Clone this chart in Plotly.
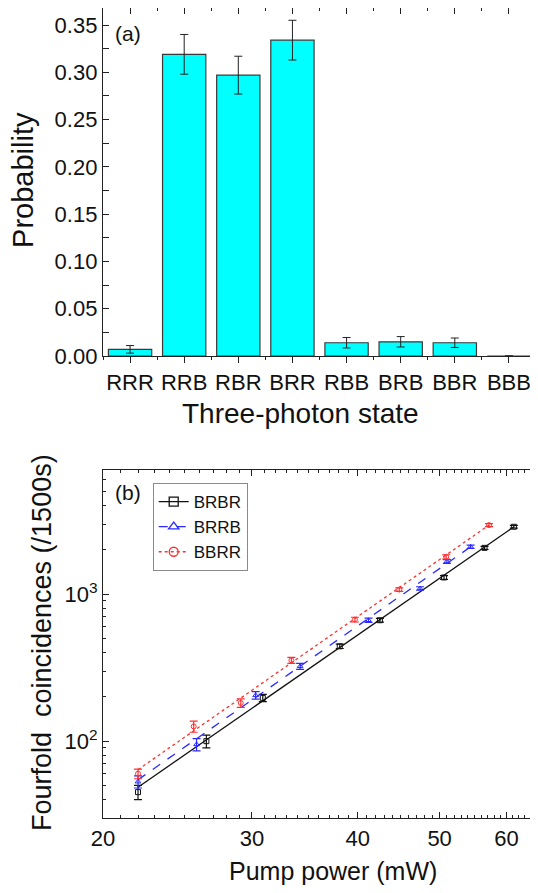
import plotly.graph_objects as go

# ---------------- Panel (a) data ----------------
states = ["RRR", "RRB", "RBR", "BRR", "RBB", "BRB", "BBR", "BBB"]
probability = [0.007, 0.319, 0.297, 0.334, 0.014, 0.015, 0.014, 0.0]
prob_err = [0.004, 0.021, 0.020, 0.021, 0.0055, 0.0055, 0.005, 0.0]

# ---------------- Panel (b) data ----------------
pump_brbr = [22.0, 26.5, 30.9, 38.1, 42.5, 50.6, 56.5, 61.2]
cnt_brbr = [45, 100, 197, 442, 665, 1300, 2068, 2877]
err_brbr = [5, 10, 11, 15, 20, 40, 50, 60]

pump_brrb = [22.0, 25.8, 30.3, 34.2, 41.2, 47.4, 51.0, 54.4]
cnt_brrb = [53, 95, 205, 323, 665, 1094, 1670, 2101]
err_brrb = [5, 9, 12, 15, 22, 30, 50, 55]

pump_bbrr = [22.0, 25.6, 29.1, 33.4, 39.7, 44.8, 50.9, 57.2]
cnt_bbrr = [60, 126, 182, 355, 672, 1076, 1796, 2954]
err_bbrr = [4.5, 11, 12, 17, 25, 30, 60, 70]

# fitted lines (end points)
fit_brbr_x = [22.0, 61.2]
fit_brbr_y = [48.6, 2877]
fit_brrb_x = [22.0, 54.4]
fit_brrb_y = [54.6, 2101]
fit_bbrr_x = [22.0, 57.2]
fit_bbrr_y = [64.0, 2954]

FONT = "Liberation Sans, Arial, sans-serif"
AX = "#222222"

fig = go.Figure()

fig.add_trace(go.Bar(
    x=list(range(len(states))), y=probability, width=0.8,
    marker=dict(color="#00FFFF", line=dict(color="#3a3a3a", width=1.2)),
    error_y=dict(type="data", array=prob_err, color="#222222", thickness=1, width=4),
    xaxis="x", yaxis="y", showlegend=False,
))
fig.add_trace(go.Scatter(x=[None], y=[None], xaxis="x3", yaxis="y", showlegend=False, hoverinfo="skip"))

series = [
    ("BRBR", pump_brbr, cnt_brbr, err_brbr, fit_brbr_x, fit_brbr_y, "#111111", "solid", "square-open"),
    ("BRRB", pump_brrb, cnt_brrb, err_brrb, fit_brrb_x, fit_brrb_y, "#2a2aff", "dash", "triangle-up-open"),
    ("BBRR", pump_bbrr, cnt_bbrr, err_bbrr, fit_bbrr_x, fit_bbrr_y, "#ff3030", "dot", "circle-open"),
]
for name, px, py, pe, fx, fy, col, dash, sym in series:
    fig.add_trace(go.Scatter(
        x=fx, y=fy, mode="lines", line=dict(color=col, width=1.3, dash=dash),
        xaxis="x2", yaxis="y2", showlegend=False, hoverinfo="skip",
    ))
    fig.add_trace(go.Scatter(
        x=px, y=py, mode="markers",
        marker=dict(symbol=sym, size=5, color=col, line=dict(width=1, color=col)),
        error_y=dict(type="data", array=pe, color=col, thickness=1.2, width=4),
        xaxis="x2", yaxis="y2", showlegend=False,
    ))
    fig.add_trace(go.Scatter(
        x=[None], y=[None], mode="lines+markers", name=name,
        line=dict(color=col, width=1.3, dash=dash),
        marker=dict(symbol=sym, size=9, color=col, line=dict(width=1.3, color=col)),
        xaxis="x2", yaxis="y2", showlegend=True,
    ))

tickfont = dict(family=FONT, size=22, color="#111111")

xminor_b = [v for v in range(21, 66) if v % 10 != 0]
yminor_b = [m * 10 ** e for e in (1, 2, 3) for m in range(2, 10) if 30 <= m * 10 ** e <= 7000]

# the page body has an 8 px margin; plot area lands at x 103..536, y 8..818
fig.update_layout(
    width=530, height=885,
    margin=dict(l=95, r=2, t=0, b=75),
    paper_bgcolor="white", plot_bgcolor="white",
    font=dict(family=FONT, color="#111111"),
    xaxis=dict(
        domain=[0, 1], anchor="y", range=[-0.5, 7.5],
        tickmode="array", tickvals=list(range(len(states))), ticktext=states,
        ticks="outside", ticklen=6, tickwidth=1.2, tickcolor=AX,
        minor=dict(tickmode="array", tickvals=[i + 0.5 for i in range(-1, 8)], ticks="outside", ticklen=3, tickcolor=AX, tickwidth=1.2),
        showline=True, linecolor=AX, linewidth=1.3, mirror=True,
        showgrid=False, zeroline=False, tickfont=tickfont,
    ),
    xaxis3=dict(
        overlaying="x", side="top", anchor="y", range=[-0.5, 7.5],
        tickmode="array", tickvals=list(range(len(states))), showticklabels=False,
        ticks="inside", ticklen=6, tickwidth=1.2, tickcolor=AX,
        minor=dict(tickmode="array", tickvals=[i + 0.5 for i in range(-1, 8)], ticks="inside", ticklen=3, tickcolor=AX, tickwidth=1.2),
        showline=False, showgrid=False, zeroline=False,
    ),
    yaxis=dict(
        domain=[0.5704, 1], anchor="x", range=[0, 0.368],
        tickmode="linear", tick0=0, dtick=0.05, tickformat=".2f",
        ticks="inside", ticklen=6, tickwidth=1.2, tickcolor=AX,
        minor=dict(dtick=0.025, ticks="inside", ticklen=3, tickcolor=AX, tickwidth=1.2),
        showline=True, linecolor=AX, linewidth=1.3, mirror="allticks",
        showgrid=False, zeroline=False, tickfont=tickfont,
    ),
    xaxis2=dict(
        domain=[0, 1], anchor="y2", type="log", range=[1.30103, 1.81291],
        tickmode="array", tickvals=[20, 30, 40, 50, 60], ticktext=["20", "30", "40", "50", "60"],
        ticks="inside", ticklen=6, tickwidth=1.2, tickcolor=AX,
        minor=dict(tickmode="array", tickvals=xminor_b, ticks="inside", ticklen=3, tickcolor=AX, tickwidth=1.2),
        showline=True, linecolor=AX, linewidth=1.3, mirror="allticks",
        showgrid=False, zeroline=False, tickfont=tickfont,
    ),
    yaxis2=dict(
        domain=[0, 0.4296], anchor="x2", type="log", range=[1.47712, 3.84510],
        tickmode="array", tickvals=[100, 1000], ticktext=["10<sup>2</sup>", "10<sup>3</sup>"],
        ticks="inside", ticklen=6, tickwidth=1.2, tickcolor=AX,
        minor=dict(tickmode="array", tickvals=yminor_b, ticks="inside", ticklen=3, tickcolor=AX, tickwidth=1.2),
        showline=True, linecolor=AX, linewidth=1.3, mirror="allticks",
        showgrid=False, zeroline=False, tickfont=tickfont,
    ),
    legend=dict(
        x=0.1148, y=0.4136, xanchor="left", yanchor="top",
        bordercolor="#8a8a8a", borderwidth=1, bgcolor="white",
        font=dict(family=FONT, size=17, color="#111111"),
        tracegroupgap=0, itemwidth=30,
    ),
    annotations=[
        dict(text="(a)", x=0.023, y=0.968, xref="paper", yref="paper", xanchor="left", yanchor="middle",
             showarrow=False, font=dict(family=FONT, size=21)),
        dict(text="(b)", x=0.023, y=0.4019, xref="paper", yref="paper", xanchor="left", yanchor="middle",
             showarrow=False, font=dict(family=FONT, size=21)),
        dict(text="Probability", x=(23 - 103) / 433, y=0.7877, xref="paper", yref="paper",
             xanchor="center", yanchor="middle", textangle=-90, showarrow=False, font=dict(family=FONT, size=29)),
        dict(text="Fourfold\u00a0 coincidences (/1500s)", x=(42 - 103) / 433, y=0.216, xref="paper", yref="paper",
             xanchor="center", yanchor="middle", textangle=-90, showarrow=False, font=dict(family=FONT, size=27)),
        dict(text="Three-photon state", x=(300 - 103) / 433, y=0.499, xref="paper", yref="paper",
             xanchor="center", yanchor="middle", showarrow=False, font=dict(family=FONT, size=28)),
        dict(text="Pump power (mW)", x=(333 - 103) / 433, y=-0.0654, xref="paper", yref="paper",
             xanchor="center", yanchor="middle", showarrow=False, font=dict(family=FONT, size=25)),
    ],
)

fig.write_html("out.html")
